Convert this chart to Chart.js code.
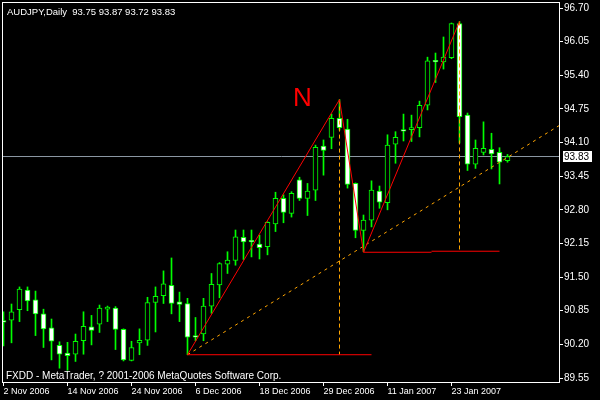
<!DOCTYPE html>
<html>
<head>
<meta charset="utf-8">
<script src="https://cdn.jsdelivr.net/npm/chart.js@4.4.0/dist/chart.umd.min.js"></script>
<style>
    body { margin: 0; background: #000; }
    canvas { display: block; }
</style>
</head>
<body>
<canvas id="chart" width="600" height="400"></canvas>
<script>
const symbolTitle = 'AUDJPY,Daily  93.75 93.87 93.72 93.83';
const copyright = 'FXDD - MetaTrader, ? 2001-2006 MetaQuotes Software Corp.';

// daily candles, one per bar index
const opens = [90.66, 90.67, 90.87, 91.25, 91.06, 90.79, 90.52, 90.18, 90.03, 90.01,
    90.27, 90.54, 90.59, 90.88, 90.90, 90.49, 89.89, 90.23, 90.28, 91.01,
    91.14, 91.34, 91.02, 90.99, 90.37, 90.40, 90.94, 91.35, 91.75, 91.82,
    92.27, 92.21, 92.14, 92.09, 92.53, 93.02, 92.73, 93.38, 93.02, 93.18,
    94.03, 94.20, 94.57, 94.36, 93.31, 92.40, 92.60, 93.16, 92.94, 94.07,
    94.35, 94.35, 94.39, 94.82, 95.69, 95.66, 95.74, 96.40, 94.63, 93.68,
    93.91, 93.97, 93.91, 93.75];
const highs = [90.83, 90.98, 91.31, 91.31, 91.23, 90.88, 90.69, 90.25, 90.24, 90.40,
    90.83, 90.76, 90.96, 90.94, 90.93, 90.50, 90.26, 90.50, 91.11, 91.31,
    91.62, 91.87, 91.21, 91.09, 90.72, 91.09, 91.57, 91.78, 91.99, 92.41,
    92.41, 92.41, 92.31, 92.57, 93.14, 93.09, 93.15, 93.43, 93.31, 94.05,
    94.15, 94.65, 94.93, 94.55, 93.32, 92.70, 93.36, 93.26, 94.25, 94.31,
    94.65, 94.63, 94.90, 95.75, 95.83, 96.14, 96.41, 96.44, 94.67, 94.15,
    94.50, 94.28, 94.00, 93.87];
const lows = [90.17, 90.23, 90.64, 90.85, 90.37, 90.14, 89.90, 89.74, 89.70, 89.87,
    90.01, 90.19, 90.43, 90.64, 90.10, 89.88, 89.88, 90.00, 90.18, 90.44,
    90.99, 90.79, 90.64, 90.00, 90.27, 90.27, 90.80, 91.10, 91.57, 91.73,
    91.84, 91.89, 91.85, 91.93, 92.38, 92.55, 92.66, 92.98, 92.69, 92.98,
    93.47, 93.98, 94.34, 93.22, 92.26, 91.99, 92.47, 92.83, 92.80, 93.70,
    94.13, 94.12, 94.21, 94.73, 95.26, 95.52, 95.72, 94.09, 93.56, 93.60,
    93.86, 93.59, 93.30, 93.72];
const closes = [90.63, 90.83, 91.27, 91.04, 90.79, 90.50, 90.26, 90.01, 89.98, 90.26,
    90.55, 90.47, 90.90, 90.92, 90.49, 89.90, 90.14, 90.28, 91.01, 91.13,
    91.37, 90.99, 90.97, 90.34, 90.34, 90.94, 91.36, 91.76, 91.83, 92.28,
    92.18, 92.18, 92.07, 92.56, 93.02, 92.75, 93.12, 93.02, 93.16, 94.01,
    93.95, 94.57, 94.39, 93.29, 92.40, 92.60, 93.18, 92.95, 94.05, 94.20,
    94.32, 94.39, 94.82, 95.68, 95.66, 95.75, 96.40, 94.60, 93.68, 93.99,
    93.99, 93.88, 93.72, 93.83];

const dateTicks = [0, 8, 16, 24, 32, 40, 48, 56];
const dateLabels = ['2 Nov 2006', '14 Nov 2006', '24 Nov 2006', '6 Dec 2006',
    '18 Dec 2006', '29 Dec 2006', '11 Jan 2007', '23 Jan 2007'];
const priceTicks = [89.55, 90.20, 90.85, 91.50, 92.15, 92.80, 93.45, 94.10, 94.75, 95.40, 96.05, 96.70];

// hand drawn objects, in bar index / price
const nBars = [23, 42, 45, 57];
const nPrices = [90.00, 94.93, 91.98, 96.44];
const trendBars = [23, 70];
const trendPrices = [90.00, 94.48];
const vline1Bars = [42, 42];
const vline1Prices = [94.93, 90.00];
const vline2Bars = [57, 57];
const vline2Prices = [96.44, 92.00];
const hline1Bars = [23, 46];
const hline1Prices = [90.00, 90.00];
const hline2Bars = [45, 53.5];
const hline2Prices = [91.98, 91.98];
const hline3Bars = [53.5, 62];
const hline3Prices = [92.00, 92.00];
const bidPrice = 93.83;
const nLabelBar = 36.2;
const nLabelPrice = 94.81;

const green = '#00ff00';
const fontFamily = '"Liberation Sans", Arial, sans-serif';

Chart.defaults.font.family = fontFamily;
Chart.defaults.font.size = 10;
Chart.defaults.color = '#ffffff';

const idx = opens.map((_, i) => i);
const wickData = idx.map(i => ({ x: i, y: [lows[i], highs[i]] }));
const bodyData = idx.map(i => ({ x: i, y: [Math.min(opens[i], closes[i]), Math.max(opens[i], closes[i])] }));
const bodyFill = idx.map(i => closes[i] >= opens[i] ? '#000000' : '#ffffff');

function lineSet(xs, ys, color, dash, order) {
    return {
        type: 'line',
        data: xs.map((x, k) => ({ x: x, y: ys[k] })),
        borderColor: color,
        borderWidth: 1,
        borderDash: dash,
        pointRadius: 0,
        fill: false,
        tension: 0,
        order: order
    };
}

const extrasPlugin = {
    id: 'extras',
    afterDatasetsDraw(chart) {
        const ctx = chart.ctx;
        const a = chart.chartArea;
        const xs = chart.scales.x;
        const ys = chart.scales.y;
        ctx.save();
        ctx.fillStyle = '#ff0000';
        ctx.font = '26px "Liberation Sans Narrow", ' + fontFamily;
        ctx.textBaseline = 'alphabetic';
        ctx.textAlign = 'left';
        ctx.fillText('N', xs.getPixelForValue(nLabelBar), ys.getPixelForValue(nLabelPrice));

        ctx.fillStyle = '#ffffff';
        ctx.font = '9.5px ' + fontFamily;
        ctx.fillText(symbolTitle, 7, 14.5);
        ctx.font = '10px ' + fontFamily;
        ctx.fillText(copyright, 6, 378.5);

        // frame
        ctx.strokeStyle = '#ffffff';
        ctx.lineWidth = 1;
        ctx.strokeRect(a.left - 0.5, a.top + 0.5, a.right - a.left, a.bottom - a.top);

        // bid label
        const by = Math.round(ys.getPixelForValue(bidPrice));
        ctx.fillStyle = '#ffffff';
        ctx.fillRect(a.right + 3, by - 6, 29, 11);
        ctx.fillStyle = '#000000';
        ctx.textBaseline = 'middle';
        ctx.fillText(bidPrice.toFixed(2), a.right + 4, by);
        ctx.restore();
    }
};

new Chart(document.getElementById('chart'), {
    type: 'bar',
    data: {
        datasets: [
            lineSet([-1, 71], [bidPrice, bidPrice], '#8c98a4', [], 5),
            {
                data: wickData,
                backgroundColor: green,
                borderWidth: 0,
                barThickness: 1,
                grouped: false,
                order: 4
            },
            {
                data: bodyData,
                backgroundColor: bodyFill,
                borderColor: green,
                borderWidth: 1,
                borderSkipped: false,
                barThickness: 5,
                grouped: false,
                order: 3
            },
            lineSet(hline1Bars, hline1Prices, '#ff0000', [], 2),
            lineSet(hline2Bars, hline2Prices, '#ff0000', [], 2),
            lineSet(hline3Bars, hline3Prices, '#ff0000', [], 2),
            lineSet(trendBars, trendPrices, '#ffa500', [3, 4], 2),
            lineSet(vline1Bars, vline1Prices, '#ffa500', [4, 3], 2),
            lineSet(vline2Bars, vline2Prices, '#ffa500', [4, 3], 2),
            lineSet(nBars, nPrices, '#ff0000', [], 1)
        ]
    },
    options: {
        responsive: false,
        animation: false,
        layout: { padding: { left: 3, top: 2, right: 0, bottom: 0 } },
        plugins: {
            legend: { display: false },
            tooltip: { enabled: false }
        },
        scales: {
            x: {
                type: 'linear',
                min: -0.0625,
                max: 69.5625,
                offset: false,
                border: { display: false },
                grid: { offset: false, drawOnChartArea: false, drawTicks: true, tickLength: 4, color: '#ffffff' },
                ticks: {
                    autoSkip: false,
                    maxRotation: 0,
                    minRotation: 0,
                    align: 'start',
                    padding: 0,
                    color: '#ffffff',
                    font: { size: 9 },
                    callback: (v, i) => dateLabels[i]
                },
                afterBuildTicks: s => { s.ticks = dateTicks.map(v => ({ value: v })); },
                afterFit: s => { s.height = 18; s.paddingLeft = 0; s.paddingRight = 0; }
            },
            y: {
                position: 'right',
                min: 89.473,
                max: 96.816,
                beginAtZero: false,
                border: { display: false },
                grid: { drawOnChartArea: false, drawTicks: true, tickLength: 3, color: '#ffffff' },
                ticks: {
                    autoSkip: false,
                    padding: 1,
                    color: '#ffffff',
                    font: { size: 10 },
                    callback: v => v.toFixed(2)
                },
                afterBuildTicks: s => { s.ticks = priceTicks.map(v => ({ value: v })); },
                afterFit: s => { s.width = 40; s.paddingTop = 0; s.paddingBottom = 0; }
            }
        }
    },
    plugins: [extrasPlugin]
});
</script>
</body>
</html>
